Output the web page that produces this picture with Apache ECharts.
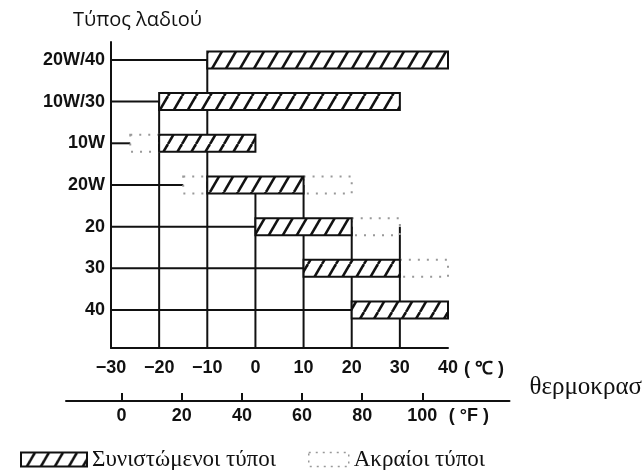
<!DOCTYPE html>
<html><head><meta charset="utf-8">
<script src="https://cdn.jsdelivr.net/npm/echarts@6/dist/echarts.min.js"></script>
<style>html,body{margin:0;padding:0;background:#fff}#c{width:643px;height:470px}</style>
</head><body><div id="c"></div>
<script>
// ---- data ----
const categories = ['20W/40', '10W/30', '10W', '20W', '20', '30', '40'];
// recommended ranges in °C: [rowIndex, from, to]
const recommended = [[0, -10, 40], [1, -20, 30], [2, -20, 0], [3, -10, 10], [4, 0, 20], [5, 10, 30], [6, 20, 40]];
// extreme ranges in °C: [rowIndex, from, to]
const extreme = [[2, -26, -20], [3, -15, -10], [3, 10, 20], [4, 20, 30], [5, 30, 40]];
// vertical grid lines: [°C, row index where the line starts]
const gridVerticals = [[-20, 1], [-10, 0], [0, 3], [10, 3], [20, 4], [30, 4]];
const celsiusTicks = [-30, -20, -10, 0, 10, 20, 30, 40];
const fahrenheitTicks = [0, 20, 40, 60, 80, 100];

// ---- derived ----
const rowIdx = categories.map((c, i) => i);
const leaders = rowIdx.map(i => {
  const starts = recommended.concat(extreme).filter(d => d[0] === i).map(d => d[1]);
  return [i, celsiusTicks[0], Math.min.apply(null, starts)];
});

// hatch pattern
const cv = document.createElement('canvas');
cv.width = 14; cv.height = 24;
const ctx = cv.getContext('2d');
ctx.fillStyle = '#fff'; ctx.fillRect(0, 0, 14, 24);
ctx.strokeStyle = '#111'; ctx.lineWidth = 2.6;
[-14, 0, 14].forEach(dx => { ctx.beginPath(); ctx.moveTo(dx, 24); ctx.lineTo(dx + 14, 0); ctx.stroke(); });
const hatch = { image: cv, repeat: 'repeat' };

const INK = '#111';
const BAR_H = 17;
const chart = echarts.init(document.getElementById('c'), null, { renderer: 'canvas' });

const sansLbl = { fontFamily: 'Liberation Sans', fontSize: 18, fontWeight: 'bold', color: INK };
const unitRich = {
  p: { width: 58 },
  u: { width: 58, align: 'left', fontFamily: 'Liberation Sans', fontSize: 18, color: INK }
};

chart.setOption({
  animation: false,
  backgroundColor: '#fff',
  title: {
    text: 'Τύπος λαδιού', left: 68, top: 5,
    textStyle: { fontFamily: 'Open Sans', fontSize: 20, fontWeight: 'normal', color: INK }
  },
  legend: [{
    left: 15, top: 443, itemWidth: 66, itemHeight: 14, selectedMode: false,
    data: [{ name: 'Συνιστώμενοι τύποι', icon: 'rect', itemStyle: { color: hatch, borderColor: INK, borderWidth: 2 } }],
    textStyle: { fontFamily: 'Liberation Serif', fontSize: 23, color: INK }
  }, {
    left: 303, top: 443, itemWidth: 40, itemHeight: 14, selectedMode: false,
    data: [{ name: 'Ακραίοι τύποι', icon: 'rect', itemStyle: { color: 'rgba(0,0,0,0)', borderColor: '#999', borderWidth: 1.5, borderType: [2, 5] } }],
    textStyle: { fontFamily: 'Liberation Serif', fontSize: 23, color: INK }
  }],
  grid: [
    { left: 111, right: 195, top: 42, bottom: 122 },
    { left: 66, right: 130, bottom: 69, height: 1 }
  ],
  xAxis: [{
    gridIndex: 0, type: 'value', min: -30, max: 40, interval: 10, position: 'bottom',
    name: '( ℃ )', nameLocation: 'end', nameGap: 16,
    nameTextStyle: { fontFamily: 'Liberation Sans', fontSize: 18, fontWeight: 'bold', color: INK, verticalAlign: 'top', padding: [12, 0, 0, 0] },
    axisLine: { onZero: false, lineStyle: { color: INK, width: 2 } },
    axisTick: { show: false }, splitLine: { show: false },
    axisLabel: Object.assign({}, sansLbl, {
      margin: 11, showMaxLabel: true, showMinLabel: true,
      formatter: v => String(v).replace('-', '−')
    })
  }, {
    gridIndex: 1, type: 'value', min: -18.5, max: 129, position: 'bottom',
    name: 'θερμοκρασ', nameLocation: 'end', nameGap: 20,
    nameTextStyle: { fontFamily: 'Liberation Serif', fontSize: 25, color: INK, verticalAlign: 'bottom', lineHeight: 28 },
    axisLine: { onZero: false, lineStyle: { color: INK, width: 2 } },
    axisTick: { show: true, inside: true, length: 8, customValues: fahrenheitTicks, lineStyle: { color: INK, width: 2 } },
    splitLine: { show: false },
    axisLabel: Object.assign({}, sansLbl, {
      margin: 6, customValues: fahrenheitTicks,
      formatter: v => v === 100 ? '{p|}100{u| ( °F )}' : String(v),
      rich: unitRich
    })
  }],
  yAxis: [{
    gridIndex: 0, type: 'value', inverse: true, min: -0.43, max: 6.91, position: 'left',
    axisLine: { show: true, onZero: false, lineStyle: { color: INK, width: 2 } },
    axisTick: { show: false }, splitLine: { show: false },
    axisLabel: Object.assign({}, sansLbl, { margin: 6, customValues: rowIdx, formatter: v => categories[v] })
  }, {
    gridIndex: 1, type: 'value', show: false
  }],
  series: [{
    name: 'leaders', type: 'custom', xAxisIndex: 0, yAxisIndex: 0, z: 1,
    data: leaders, encode: { x: [1, 2], y: 0 },
    renderItem: (params, api) => {
      const a = api.coord([api.value(1), api.value(0)]);
      const b = api.coord([api.value(2), api.value(0)]);
      return { type: 'line', shape: { x1: a[0], y1: a[1], x2: b[0], y2: b[1] }, style: { stroke: INK, lineWidth: 2 } };
    }
  }, {
    name: 'verticals', type: 'custom', xAxisIndex: 0, yAxisIndex: 0, z: 1,
    data: gridVerticals, encode: { x: 0, y: 1 },
    renderItem: (params, api) => {
      const a = api.coord([api.value(0), api.value(1)]);
      const bottom = params.coordSys.y + params.coordSys.height;
      return { type: 'line', shape: { x1: a[0], y1: a[1], x2: a[0], y2: bottom }, style: { stroke: INK, lineWidth: 2 } };
    }
  }, {
    name: 'Ακραίοι τύποι', type: 'custom', xAxisIndex: 0, yAxisIndex: 0, z: 2,
    itemStyle: { color: '#999' },
    data: extreme, encode: { x: [1, 2], y: 0 },
    renderItem: (params, api) => {
      const a = api.coord([api.value(1), api.value(0)]);
      const b = api.coord([api.value(2), api.value(0)]);
      return {
        type: 'rect', shape: { x: a[0], y: a[1] - BAR_H / 2, width: b[0] - a[0], height: BAR_H },
        style: { fill: 'rgba(0,0,0,0)', stroke: '#999', lineWidth: 2, lineDash: [2, 7] }
      };
    }
  }, {
    name: 'Συνιστώμενοι τύποι', type: 'custom', xAxisIndex: 0, yAxisIndex: 0, z: 3,
    itemStyle: { color: hatch },
    data: recommended, encode: { x: [1, 2], y: 0 },
    renderItem: (params, api) => {
      const a = api.coord([api.value(1), api.value(0)]);
      const b = api.coord([api.value(2), api.value(0)]);
      return {
        type: 'rect', shape: { x: a[0], y: a[1] - BAR_H / 2, width: b[0] - a[0], height: BAR_H },
        style: { fill: hatch, stroke: INK, lineWidth: 2 }
      };
    }
  }]
});
</script>
</body></html>
